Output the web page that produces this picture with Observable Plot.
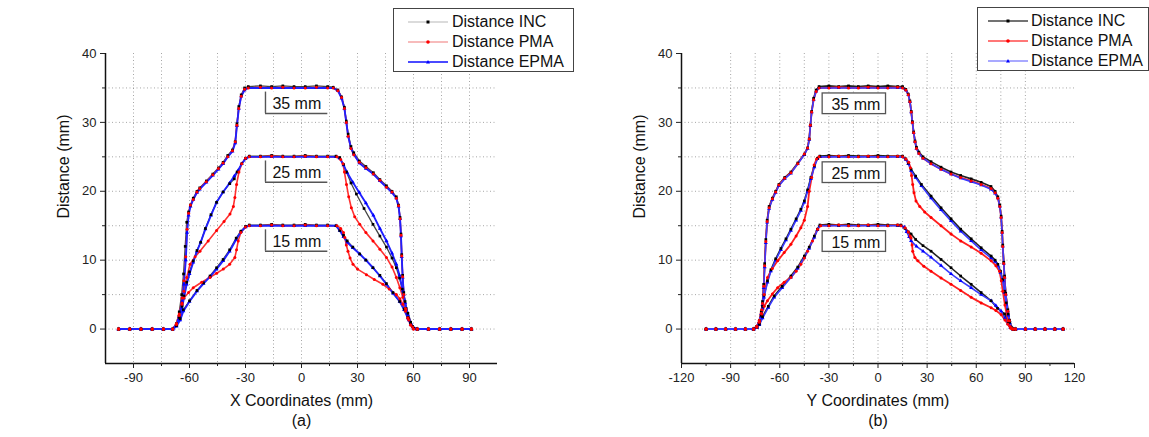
<!DOCTYPE html>
<html><head><meta charset="utf-8">
<script src="https://cdn.jsdelivr.net/npm/d3@7"></script>
<script src="https://cdn.jsdelivr.net/npm/@observablehq/plot@0.6"></script>
<style>
html,body{margin:0;padding:0;background:#fff;width:1149px;height:437px;overflow:hidden;font-family:"Liberation Sans",Arial,sans-serif}
#wrap{position:relative;width:1149px;height:437px}
.panel{position:absolute;top:0}
.legend{position:absolute;box-sizing:border-box;border:1px solid #444;background:#fff;font-size:16px;color:#111}
.row{position:absolute;left:0;right:0;height:20px;line-height:20px}
.row svg{position:absolute;top:0}
.row span{position:absolute;white-space:nowrap}
</style></head>
<body><div id="wrap"></div>
<script>
// ---------- tick / grid values ----------
const xMajorA = [-90,-60,-30,0,30,60,90];
const xMinorA = [-75,-45,-15,15,45,75];
const xGridA  = [-90,-75,-60,-45,-30,-15,0,15,30,45,60,75,90];
const xMajorB = [-120,-90,-60,-30,0,30,60,90,120];
const xMinorB = [-105,-75,-45,-15,15,45,75,105];
const xGridB  = [-90,-75,-60,-45,-30,-15,0,15,30,45,60,75,90];
const yMajor  = [0,10,20,30,40];
const yMinor  = [5,15,25,35];
const yGrid   = [0,5,10,15,20,25,30,35];
const methods = ["INC","PMA","EPMA"];
const legendLabels = ["Distance INC","Distance PMA","Distance EPMA"];
const depthLabels = [{depth:35,label:"35 mm"},{depth:25,label:"25 mm"},{depth:15,label:"15 mm"}];

// ---------- panel (a): X coordinates ----------
const zeroA_L = [[-98,0],[-92,0],[-86,0],[-80,0],[-74,0],[-69,0]];
const zeroA_R = [[62,0],[68,0],[74,0],[80,0],[86,0],[91,0]];
const A_INC_35 = [...zeroA_L,[-67,0.8],[-65.5,2.5],[-64.2,5],[-63.2,8],[-62.3,12],[-61.5,15.5],[-60.5,17],[-59.5,18],[-58,19],[-56,20],[-54.5,20.5],[-51,21.5],[-47.5,22.5],[-44.5,23.4],[-42,24.2],[-39.5,25.2],[-37,26],[-35.5,27.2],[-34.6,29.8],[-33.6,32.3],[-32.3,34],[-30.5,35],[-28.5,35.2],[-22,35.3],[-16,35.2],[-10,35.3],[-4,35.2],[2,35.2],[8,35.3],[14,35.2],[17,35.1],[19.5,34.7],[21.5,33.7],[23,32.2],[24,30.2],[25,28.3],[26.5,26.5],[28,25.6],[31,24.4],[34.5,23.6],[38.5,22.7],[42,21.7],[45.5,20.8],[48.5,20],[50.8,19.2],[52,18],[52.8,16.2],[53.3,13.8],[53.7,10.8],[54.2,7.8],[54.8,5.3],[56,3],[57.5,1.5],[59.5,0.4],...zeroA_R];
const A_PMA_35 = [...zeroA_L,[-67,0.7],[-65.5,2],[-64,4.5],[-63,7],[-62,10.5],[-61.3,14.5],[-60.5,16.8],[-59.5,18],[-58,18.8],[-56,19.9],[-54.5,20.4],[-51,21.4],[-47.5,22.4],[-44.5,23.3],[-42,24.1],[-39.5,25],[-37,25.9],[-35.5,27.2],[-34.6,29.6],[-33.6,32],[-32.3,33.8],[-30.5,34.8],[-28.5,35],[-22,35.1],[-16,35],[-10,35.1],[-4,35],[2,35],[8,35.1],[14,35],[17,35],[19.5,34.6],[21.5,33.6],[23,32],[24,30],[25,28],[26.5,26.2],[28,25.3],[31,24.2],[34.5,23.4],[38.5,22.5],[42,21.6],[45.5,20.6],[48.5,19.9],[50.8,19],[52,17.9],[52.8,16],[53.3,13.6],[53.7,10.6],[54.2,7.6],[54.8,5],[56,2.8],[57.5,1.3],[59.5,0.3],...zeroA_R];
const A_EPMA_35 = [...zeroA_L,[-67,0.6],[-65.5,1.8],[-64,4],[-63,6.5],[-62,10],[-61.3,14],[-60.5,16.5],[-59.5,17.8],[-58,18.8],[-56,19.8],[-54.5,20.3],[-51,21.3],[-47.5,22.3],[-44.5,23.2],[-42,24],[-39.5,25],[-37,25.8],[-35.5,27],[-34.6,29.5],[-33.6,32],[-32.3,33.8],[-30.5,34.7],[-28.5,35],[-22,35],[-16,35],[-10,35],[-4,35],[2,35],[8,35],[14,35],[17,35],[19.5,34.6],[21.5,33.5],[23,32],[24,30],[25,28],[26.5,26.3],[28,25.4],[31,24.1],[34.5,23.3],[38.5,22.5],[42,21.5],[45.5,20.6],[48.5,19.8],[50.8,19],[52,17.8],[52.8,16],[53.3,13.5],[53.7,10.5],[54.2,7.5],[54.8,5],[56,2.8],[57.5,1.3],[59.5,0.3],...zeroA_R];
const A_INC_25 = [...zeroA_L,[-67,0.6],[-65.5,1.7],[-64,3.3],[-63,4.8],[-61.5,6.8],[-60,8.3],[-58,9.9],[-56,11.4],[-54,12.6],[-51.5,14.6],[-48.5,16.6],[-45.5,18.4],[-42,19.9],[-38.5,21.1],[-36,21.8],[-34.5,22.8],[-32,24],[-30,24.8],[-28,25.1],[-22,25.1],[-16,25.2],[-10,25.1],[-4,25.1],[2,25.2],[8,25.1],[14,25.1],[18.5,25.1],[20.5,24.9],[22.5,23.9],[24.1,22.8],[26.5,21.2],[29.4,19.6],[33.5,17.5],[38.3,15.2],[42,13.5],[45.5,11.9],[48.5,10.3],[50.8,8.9],[52.5,7.4],[54,5.8],[55.5,4],[57,2.3],[58.5,1],[60,0.1],...zeroA_R];
const A_PMA_25 = [...zeroA_L,[-67,0.7],[-65.5,2],[-64,3.8],[-63,5.5],[-61.5,7.5],[-59.7,9.4],[-57,10.5],[-54.4,11.3],[-50,12.8],[-45.5,14.3],[-41.5,15.6],[-38.3,16.7],[-36.5,17.8],[-35.7,19.1],[-34.8,21],[-33.5,22.8],[-32,24],[-30,24.8],[-28,25],[-22,25],[-16,25.1],[-10,25],[-4,25],[2,25.1],[8,25],[14,25],[19,25],[21,24.6],[22.2,24],[23,22.8],[24.1,21],[25.3,19.2],[26.7,17.6],[28.5,16.3],[31.2,15.2],[34.5,14],[38.3,12.8],[42,11.6],[45.5,10.4],[48.5,9],[50.8,7.5],[52.7,6],[54.3,4.6],[55.7,3],[57,1.6],[58.5,0.6],[60,0],...zeroA_R];
const A_EPMA_25 = [...zeroA_L,[-67,0.5],[-65.5,1.5],[-64,3],[-63,4.5],[-61.5,6.5],[-60,8],[-58,9.7],[-56,11.3],[-54,12.6],[-51.5,14.5],[-48.5,16.5],[-45.5,18.4],[-42,19.9],[-38.5,21.2],[-36,22.2],[-34,23],[-32,24],[-30,24.7],[-28,25],[-22,25],[-16,25],[-10,25],[-4,25],[2,25],[8,25],[14,25],[18.5,25],[20.5,24.8],[22.5,23.8],[24.5,22.7],[27.5,21.3],[31,19.8],[34.5,18.3],[38.5,16.5],[42,14.6],[45.5,12.8],[48.5,11],[50.8,9.4],[52.5,7.8],[54.3,5.5],[55.5,3.8],[57,2.1],[58.5,0.9],[60,0.1],...zeroA_R];
const A_INC_15 = [...zeroA_L,[-67,0.5],[-65,1.5],[-63.3,2.8],[-60,4.1],[-56,5.6],[-52.5,6.7],[-49,7.7],[-45.5,8.9],[-42,10.1],[-38.5,11.5],[-35,13.2],[-32.5,14.2],[-30,14.9],[-28,15.1],[-22,15.1],[-16,15.2],[-10,15.1],[-4,15.1],[2,15.2],[8,15.1],[14,15.1],[18.5,15],[20.5,14.3],[22.5,13.6],[24.5,12.8],[27.5,11.9],[31.2,10.9],[34.5,10],[38.3,8.9],[42,7.8],[45.5,6.6],[49,5.3],[52.6,4],[55,2.9],[57,1.7],[58.5,0.8],[60,0.1],...zeroA_R];
const A_PMA_15 = [...zeroA_L,[-67,0.8],[-65.5,2.2],[-64,3.6],[-63,4.5],[-60.5,5.3],[-58,6],[-53.5,6.8],[-49,7.5],[-45.5,8.1],[-41.9,8.7],[-38.5,9.4],[-35.7,10.4],[-34.8,11.5],[-33.9,12.8],[-32.5,14],[-30,14.8],[-28,15],[-22,15],[-16,15.1],[-10,15],[-4,15],[2,15.1],[8,15],[14,15],[19,15],[21,14.6],[22.5,14],[23.2,13.3],[24,12.2],[24.9,11.3],[26,10.3],[27.6,9.4],[30,8.7],[34.8,7.9],[39,7.2],[43.6,6.5],[47,5.8],[50.8,5],[52.7,4.4],[54.3,3.6],[55.7,2.6],[57,1.6],[58.5,0.6],[60,0],...zeroA_R];
const A_EPMA_15 = [...zeroA_L,[-67,0.4],[-65,1.3],[-63.3,2.6],[-60,4],[-56,5.5],[-52.5,6.6],[-49,7.6],[-45.5,8.7],[-42,9.9],[-38.5,11.3],[-35,13],[-32.5,14.1],[-30,14.8],[-28,15],[-22,15],[-16,15],[-10,15],[-4,15],[2,15],[8,15],[14,15],[18.5,15],[20.5,14.3],[22.5,13.4],[24.5,12.6],[27.5,11.8],[31.2,10.9],[34.5,10],[38.3,8.9],[42,7.7],[45.5,6.5],[49,5.2],[52.6,4],[55,2.8],[57,1.6],[58.5,0.7],[60,0.1],...zeroA_R];

// ---------- panel (b): Y coordinates ----------
const zeroB_L = [[-105,0],[-99,0],[-93,0],[-87,0],[-81,0],[-76,0]];
const zeroB_R = [[84,0],[90,0],[96,0],[102,0],[108,0],[113,0]];
const B_INC_35 = [...zeroB_L,[-74,0.4],[-72.5,1.2],[-71.3,2.5],[-70.5,4],[-69.8,6.5],[-69.2,9.5],[-68.5,13],[-67.7,15.8],[-66.5,17.8],[-64.5,19],[-62.5,20],[-60.5,21],[-57,22],[-53.2,22.8],[-49,24.1],[-45,25.4],[-43,26.3],[-42,27.6],[-41.3,29.6],[-40.5,31.6],[-39.3,33.5],[-37.8,34.7],[-36,35.2],[-30,35.3],[-24,35.2],[-18,35.3],[-12,35.2],[-6,35.3],[0,35.2],[6,35.3],[12,35.2],[15,35.2],[17,34.8],[18.5,34.1],[19.5,33.1],[20.3,31.6],[21,30.1],[21.8,28.6],[22.6,27.3],[23.5,26.4],[25,25.7],[27.5,25],[32.4,24.3],[38.5,23.5],[44.6,22.8],[50.5,22.3],[56.9,21.8],[63,21.3],[69,20.7],[71.5,20],[73.2,19.2],[74.4,18],[75.2,16.4],[75.8,14.2],[76.2,12.2],[76.8,9.7],[77.3,7.7],[78,5.2],[79.3,2.8],[80.3,1.3],[81.3,0.3],[82.5,0],...zeroB_R];
const B_PMA_35 = [...zeroB_L,[-74,0.3],[-72.5,1],[-71.3,2.3],[-70.5,3.7],[-69.8,6.2],[-69.2,9.2],[-68.5,12.7],[-67.7,15.6],[-66.5,17.6],[-64.5,18.9],[-62.5,19.9],[-60.5,20.9],[-57,21.9],[-53.2,22.7],[-49,24],[-45,25.4],[-43,26.3],[-42,27.6],[-41.3,29.6],[-40.5,31.5],[-39.3,33.3],[-37.8,34.5],[-36,35],[-30,35],[-24,35.1],[-18,35],[-12,35],[-6,35.1],[0,35],[6,35],[12,35.1],[15,35],[17,34.7],[18.5,34],[19.5,33],[20.3,31.5],[21,30],[21.8,28.5],[22.6,27.2],[23.5,26.2],[25,25.5],[27.5,24.8],[32.4,24],[38.5,23.2],[44.6,22.5],[50.5,22],[56.9,21.5],[63,21],[69,20.4],[71.5,19.8],[73.2,19],[74.4,17.8],[75.2,16.2],[75.8,14],[76.2,12],[76.8,9.5],[77.3,7.5],[78,5],[79.3,2.6],[80.3,1.2],[81.3,0.2],[82.5,0],...zeroB_R];
const B_EPMA_35 = [...zeroB_L,[-74,0.3],[-72.5,1],[-71.3,2.2],[-70.5,3.5],[-69.8,6],[-69.2,9],[-68.5,12.5],[-67.7,15.5],[-66.5,17.5],[-64.5,18.8],[-62.5,19.8],[-60.5,20.8],[-57,21.8],[-53.2,22.6],[-49,24],[-45,25.3],[-43,26.2],[-42,27.5],[-41.3,29.5],[-40.5,31.5],[-39.3,33.3],[-37.8,34.5],[-36,35],[-30,35],[-24,35],[-18,35],[-12,35],[-6,35],[0,35],[6,35],[12,35],[15,35],[17,34.7],[18.5,34],[19.5,33],[20.3,31.5],[21,30],[21.8,28.5],[22.6,27.2],[23.5,26.2],[25,25.5],[27.5,24.8],[32.4,24],[38.5,23.2],[44.6,22.5],[50.5,21.9],[56.9,21.4],[63,20.9],[69,20.3],[71.5,19.7],[73.2,19],[74.4,17.8],[75.2,16.2],[75.8,14],[76.2,12],[76.8,9.5],[77.3,7.5],[78,5],[79.3,2.6],[80.3,1.2],[81.3,0.2],[82.5,0],...zeroB_R];
const B_INC_25 = [...zeroB_L,[-74,0.3],[-72.5,1],[-71.3,2],[-70.5,3.3],[-69.6,4.9],[-67.5,7],[-65.4,8.6],[-62.5,10.2],[-59.3,11.7],[-56.2,13.1],[-53.2,14.5],[-50,16],[-47.1,17.4],[-45,18.6],[-43,20.2],[-41,22],[-38.9,23.7],[-37,24.8],[-35.5,25.1],[-30,25.2],[-24,25.1],[-18,25.2],[-12,25.1],[-6,25.1],[0,25.2],[6,25.1],[12,25.1],[15,25.1],[17,24.7],[18.5,24.1],[20.2,23.2],[23,22.2],[26.5,21],[32.4,19.3],[38.5,17.6],[44.6,16],[50.5,14.5],[56.9,13.1],[63,11.8],[69.1,10.6],[71.5,10],[73.2,9.4],[74.8,8.4],[76.2,7.2],[77.3,5.5],[78.3,3.8],[79.5,2.2],[80.5,1],[81.5,0.2],[82.5,0],...zeroB_R];
const B_PMA_25 = [...zeroB_L,[-74,0.3],[-72.5,1.2],[-71,2.8],[-69.5,5],[-67.5,7.5],[-64.5,8.8],[-61.3,9.9],[-57.3,11.1],[-53.2,12.3],[-50,13.5],[-47.1,14.7],[-45,15.8],[-43,17.8],[-42,20],[-40.5,22],[-39,23.8],[-37.5,24.7],[-36,25],[-30,25],[-24,25.1],[-18,25],[-12,25],[-6,25.1],[0,25],[6,25],[12,25.1],[15,25],[17,24.7],[18.8,24.2],[19.8,23.4],[20.5,22.3],[21.2,21],[22,19.8],[23.2,18.6],[25.5,17.8],[28.5,17],[32.4,16.2],[38.5,15],[44.6,13.8],[50.5,12.8],[56.9,11.9],[63,11],[69.1,9.9],[72,9.2],[74.2,8.4],[75.3,7],[76.2,5.5],[77.5,3.5],[79.3,1.2],[80.5,0.4],[82,0],...zeroB_R];
const B_EPMA_25 = [...zeroB_L,[-74,0.2],[-72.5,0.8],[-71.3,1.8],[-70.5,3],[-69.6,4.6],[-67.5,6.8],[-65.4,8.4],[-62.5,10],[-59.3,11.5],[-56.2,12.9],[-53.2,14.3],[-50,15.8],[-47.1,17.2],[-45,18.4],[-43,20],[-41,21.8],[-38.9,23.5],[-37,24.7],[-35.5,25],[-30,25],[-24,25],[-18,25],[-12,25],[-6,25],[0,25],[6,25],[12,25],[15,25],[17,24.6],[18.5,24],[20.2,23],[23,22],[26.5,20.8],[32.4,19],[38.5,17.3],[44.6,15.7],[50.5,14.2],[56.9,12.8],[63,11.5],[69.1,10.3],[71.5,9.8],[73.2,9.2],[74.8,8.2],[76.2,7],[77.3,5.3],[78.3,3.6],[79.5,2],[80.5,0.9],[81.5,0.2],[82.5,0],...zeroB_R];
const B_INC_15 = [...zeroB_L,[-74,0.3],[-72.5,0.7],[-70.5,1.8],[-67,3.3],[-63.4,4.8],[-58.5,6.2],[-53.2,7.7],[-49,9],[-45,10.6],[-42,11.9],[-38.9,13.5],[-37,14.5],[-35.5,15.1],[-30,15.2],[-24,15.1],[-18,15.2],[-12,15.1],[-6,15.1],[0,15.2],[6,15.1],[12,15.1],[14,15.1],[16.5,14.6],[18.5,14.1],[20.2,13.8],[23,13],[27.5,12.1],[32.4,11.3],[38.5,10.1],[44.6,8.9],[50.5,7.7],[56.9,6.5],[63,5.3],[69.1,4.1],[73,3],[77.3,2.2],[79.5,1],[81,0.2],[82.5,0],...zeroB_R];
const B_PMA_15 = [...zeroB_L,[-74,0.4],[-72.5,1.2],[-71,2.2],[-69.5,3.3],[-67.5,4.1],[-64.5,5.1],[-61.3,6],[-57.3,6.8],[-53.2,7.5],[-50,8.4],[-47.1,9.4],[-45,10.3],[-43,11.3],[-40,12.8],[-36.9,14.5],[-35,15],[-30,15],[-24,15.1],[-18,15],[-12,15],[-6,15.1],[0,15],[6,15],[12,15.1],[14,15],[16.5,14.7],[18.5,14.1],[19.6,13.5],[20.2,13.2],[20.8,12.2],[21.2,11.3],[22.5,10.4],[24.3,9.9],[28,9.1],[32.4,8.4],[38.5,7.4],[44.6,6.5],[50.5,5.6],[56.9,4.6],[63,3.8],[69.1,3.1],[72,2.7],[75.2,2.1],[77.5,1.3],[79.3,0.7],[81,0.1],[82.5,0],...zeroB_R];
const B_EPMA_15 = [...zeroB_L,[-74,0.2],[-72.5,0.6],[-70.5,1.6],[-67,3.1],[-63.4,4.6],[-58.5,6],[-53.2,7.5],[-49,8.8],[-45,10.4],[-42,11.7],[-38.9,13.3],[-37,14.4],[-35.5,15],[-30,15],[-24,15],[-18,15],[-12,15],[-6,15],[0,15],[6,15],[12,15],[14,15],[16.1,14.8],[17.5,14.1],[19,13.4],[20.2,12.8],[23.5,12],[27.5,11.3],[32.4,10.4],[38.5,9.2],[44.6,8],[50.5,7],[56.9,6],[63,5],[69.1,4.1],[72,3.4],[75.2,2.6],[77.5,1.6],[79.5,0.8],[80.8,0.2],[82.5,0],...zeroB_R];

// ---------- build tables ----------
function table(curves) {
  const rows = [];
  for (const [method, depth, pts] of curves)
    for (const [x, y] of pts) rows.push({method, depth, key: method + depth, x, y});
  return rows;
}
const dataA = table([["INC",35,A_INC_35],["PMA",35,A_PMA_35],["EPMA",35,A_EPMA_35],
                     ["INC",25,A_INC_25],["PMA",25,A_PMA_25],["EPMA",25,A_EPMA_25],
                     ["INC",15,A_INC_15],["PMA",15,A_PMA_15],["EPMA",15,A_EPMA_15]]);
const dataB = table([["INC",35,B_INC_35],["PMA",35,B_PMA_35],["EPMA",35,B_EPMA_35],
                     ["INC",25,B_INC_25],["PMA",25,B_PMA_25],["EPMA",25,B_EPMA_25],
                     ["INC",15,B_INC_15],["PMA",15,B_PMA_15],["EPMA",15,B_EPMA_15]]);

const FONT = "Liberation Sans, Arial, sans-serif";
const dotColor = {INC:"#000", PMA:"#ff0000", EPMA:"#0000ff"};
const symbolOf = {INC:"square", PMA:"circle", EPMA:"triangle"};

function panel(cfg) {
  const grid = {stroke:"#8a8a8a", strokeOpacity:0.85, strokeDasharray:"1,2.5", strokeWidth:0.9};
  const lines = ["INC","PMA","EPMA"].map(m => Plot.line(cfg.data.filter(d => d.method === m),
      {x:"x", y:"y", z:"key", stroke: cfg.lineColor[m], strokeWidth: cfg.lineWidth[m], curve:"linear"}));
  const dots = ["EPMA","INC","PMA"].map(m => Plot.dot(cfg.data.filter(d => d.method === m),
      {x:"x", y:"y", r:1.5, symbol: symbolOf[m], fill: dotColor[m], stroke:"none"}));
  const b = cfg.box;
  const boxMarks = cfg.fullBox ? [
      Plot.rect(depthLabels, {x1:b.x1, x2:b.x2, y1:d=>d.depth-b.lo, y2:d=>d.depth-b.hi, fill:"white", stroke:"#555", strokeWidth:1.3})
    ] : [
      Plot.rect(depthLabels, {x1:b.x1, x2:b.x2, y1:d=>d.depth-b.lo, y2:d=>d.depth-b.hi, fill:"white"}),
      Plot.ruleX(depthLabels, {x:b.x1, y1:d=>d.depth-b.lo, y2:d=>d.depth-b.hi, stroke:"#555", strokeWidth:1.4}),
      Plot.ruleY(depthLabels, {y:d=>d.depth-b.lo, x1:b.x1, x2:b.x2, stroke:"#555", strokeWidth:1.4})
    ];
  return Plot.plot({
    width: cfg.width, height: 437,
    marginLeft: cfg.ml, marginRight: cfg.mr, marginTop: 53, marginBottom: 74,
    x: {domain: cfg.xDomain}, y: {domain: [-5, 40]},
    style: {fontFamily: FONT, fontSize: "13px", color: "#222", background: "transparent", overflow: "visible"},
    marks: [
      Plot.gridY(yGrid, grid),
      Plot.gridX(cfg.xGrid, grid),
      ...lines, ...dots,
      ...boxMarks,
      Plot.text(depthLabels, {x: b.tx, y: d => d.depth - b.ty, text: d => d.label, fontSize: 16, fill: "#111"}),
      Plot.ruleX([cfg.xDomain[0]], {stroke:"#111", strokeWidth:1.5}),
      Plot.ruleY([-5], {stroke:"#111", strokeWidth:1.5}),
      Plot.axisX(cfg.xMajor, {tickSize:5, tickPadding:4, tickFormat: d => String(d), label: null, fontSize: 13}),
      Plot.axisX(cfg.xMinor, {tickSize:3, tickFormat: () => "", label: null}),
      Plot.axisY(yMajor, {tickSize:5, tickPadding:4, tickFormat: d => String(d), label: null, fontSize: 13}),
      Plot.axisY(yMinor, {tickSize:3, tickFormat: () => "", label: null}),
      Plot.text([cfg.xLabel], {text: d => d, frameAnchor: "bottom", dy: 42, fontSize: 16, fill: "#111"}),
      Plot.text([cfg.tag], {text: d => d, frameAnchor: "bottom", dy: 62, fontSize: 16, fill: "#111"}),
      Plot.text(["Distance (mm)"], {text: d => d, frameAnchor: "left", rotate: -90, dx: -42, dy: 10, fontSize: 16, fill: "#111"})
    ]
  });
}

const wrap = document.getElementById("wrap");
const pa = panel({data: dataA, width: 575, ml: 105, mr: 78, xDomain: [-105, 105],
  xMajor: xMajorA, xMinor: xMinorA, xGrid: xGridA, xLabel: "X Coordinates (mm)", tag: "(a)",
  lineColor: {INC:"#444", PMA:"#ff3030", EPMA:"#2020ff"}, lineWidth: {INC:1.3, PMA:1.6, EPMA:1.9},
  fullBox: false, box: {x1:-19.3, x2:14.1, lo:3.7, hi:0.6, tx:-2.5, ty:2.3}});
pa.classList.add("panel"); pa.style.left = "0px";
wrap.appendChild(pa);
const pb = panel({data: dataB, width: 574, ml: 106, mr: 75, xDomain: [-120, 120],
  xMajor: xMajorB, xMinor: xMinorB, xGrid: xGridB, xLabel: "Y Coordinates (mm)", tag: "(b)",
  lineColor: {INC:"#222", PMA:"#ff2020", EPMA:"#3a3aff"}, lineWidth: {INC:1.6, PMA:1.8, EPMA:1.6},
  fullBox: true, box: {x1:-33.8, x2:4.9, lo:3.8, hi:0.8, tx:-13.5, ty:2.5}});
pb.classList.add("panel"); pb.style.left = "575px";
wrap.appendChild(pb);

// ---------- legends ----------
function legend(left, top, width, sampleX, textX, lineColors, lineWidths) {
  const box = document.createElement("div");
  box.className = "legend";
  Object.assign(box.style, {left: left + "px", top: top + "px", width: width + "px", height: "64px"});
  methods.forEach((m, i) => {
    const row = document.createElement("div");
    row.className = "row"; row.style.top = (3 + 20 * i) + "px";
    const sym = m === "INC" ? `<rect x="18.5" y="8.5" width="3" height="3" fill="#000"/>`
      : m === "PMA" ? `<circle cx="20" cy="10" r="1.8" fill="#f00"/>`
      : `<path d="M20,8 L22,11.5 L18,11.5 Z" fill="#00f"/>`;
    row.innerHTML = `<svg width="40" height="20" style="left:${sampleX}px"><line x1="0" x2="40" y1="10" y2="10" stroke="${lineColors[i]}" stroke-width="${lineWidths[i]}"/>${sym}</svg><span style="left:${textX}px">${legendLabels[i]}</span>`;
    box.appendChild(row);
  });
  wrap.appendChild(box);
}
legend(393, 8, 181, 14, 58, ["#cfcfcf", "#f4a4a4", "#4a4aff"], [1.5, 1.5, 2]);
legend(977, 7, 172, 10, 53, ["#444", "#ff4a4a", "#8c8cff"], [1.5, 1.5, 1.5]);
</script></body></html>
